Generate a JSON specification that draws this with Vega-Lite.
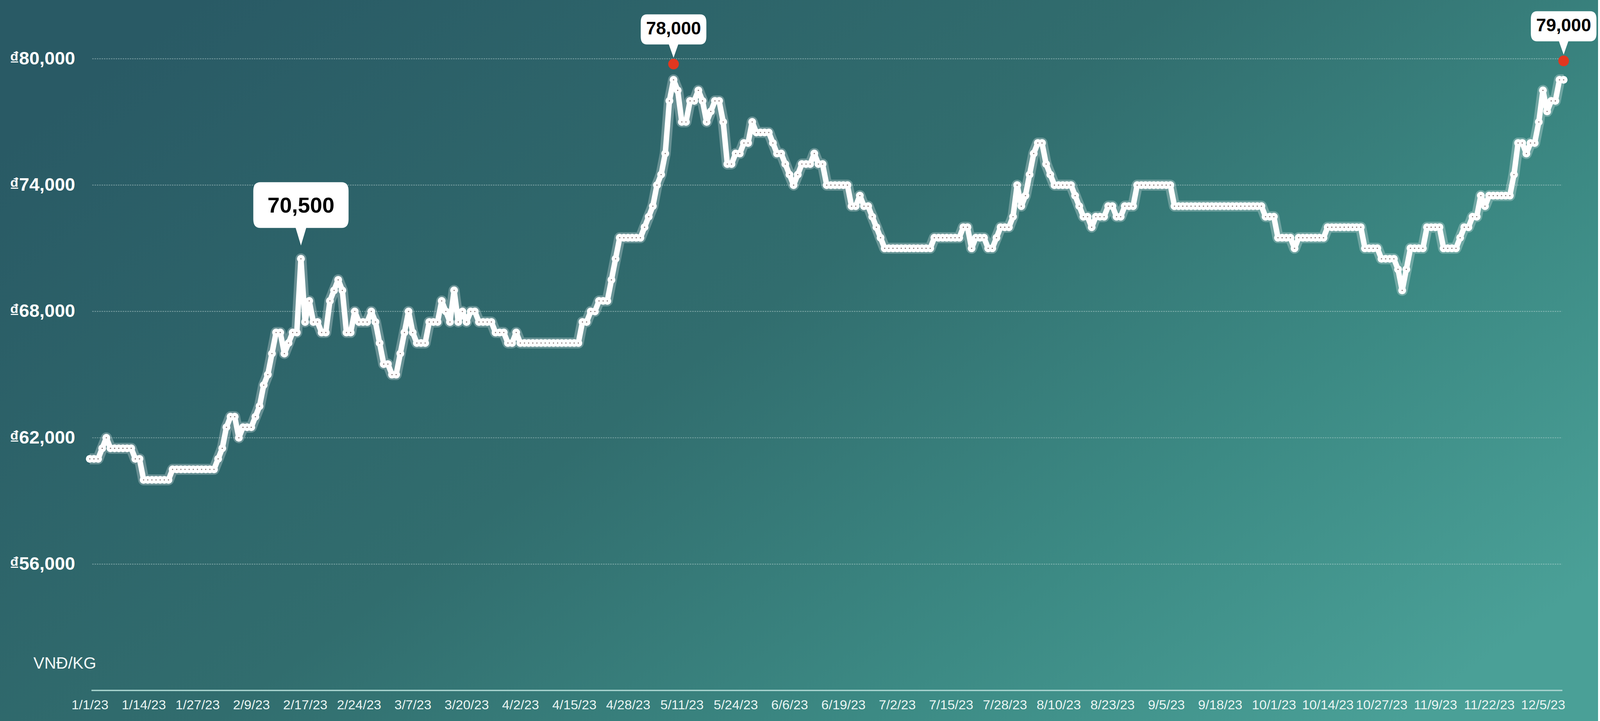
{
"$schema": "https://vega.github.io/schema/vega-lite/v6.json",
"width": 4091, "height": 1845, "padding": 0, "autosize": {"type": "none"},
"config": {"view": {"stroke": null}, "font": "Liberation Sans"},
"datasets": {
"s": [
{"i":0,"v":61000},{"i":1,"v":61000},{"i":2,"v":61000},{"i":3,"v":61500},{"i":4,"v":62000},{"i":5,"v":61500},{"i":6,"v":61500},{"i":7,"v":61500},{"i":8,"v":61500},{"i":9,"v":61500},
{"i":10,"v":61500},{"i":11,"v":61000},{"i":12,"v":61000},{"i":13,"v":60000},{"i":14,"v":60000},{"i":15,"v":60000},{"i":16,"v":60000},{"i":17,"v":60000},{"i":18,"v":60000},{"i":19,"v":60000},
{"i":20,"v":60500},{"i":21,"v":60500},{"i":22,"v":60500},{"i":23,"v":60500},{"i":24,"v":60500},{"i":25,"v":60500},{"i":26,"v":60500},{"i":27,"v":60500},{"i":28,"v":60500},{"i":29,"v":60500},
{"i":30,"v":60500},{"i":31,"v":61000},{"i":32,"v":61500},{"i":33,"v":62500},{"i":34,"v":63000},{"i":35,"v":63000},{"i":36,"v":62000},{"i":37,"v":62500},{"i":38,"v":62500},{"i":39,"v":62500},
{"i":40,"v":63000},{"i":41,"v":63500},{"i":42,"v":64500},{"i":43,"v":65000},{"i":44,"v":66000},{"i":45,"v":67000},{"i":46,"v":67000},{"i":47,"v":66000},{"i":48,"v":66500},{"i":49,"v":67000},
{"i":50,"v":67000},{"i":51,"v":70500},{"i":52,"v":67500},{"i":53,"v":68500},{"i":54,"v":67500},{"i":55,"v":67500},{"i":56,"v":67000},{"i":57,"v":67000},{"i":58,"v":68500},{"i":59,"v":69000},
{"i":60,"v":69500},{"i":61,"v":69000},{"i":62,"v":67000},{"i":63,"v":67000},{"i":64,"v":68000},{"i":65,"v":67500},{"i":66,"v":67500},{"i":67,"v":67500},{"i":68,"v":68000},{"i":69,"v":67500},
{"i":70,"v":66500},{"i":71,"v":65500},{"i":72,"v":65500},{"i":73,"v":65000},{"i":74,"v":65000},{"i":75,"v":66000},{"i":76,"v":67000},{"i":77,"v":68000},{"i":78,"v":67000},{"i":79,"v":66500},
{"i":80,"v":66500},{"i":81,"v":66500},{"i":82,"v":67500},{"i":83,"v":67500},{"i":84,"v":67500},{"i":85,"v":68500},{"i":86,"v":68000},{"i":87,"v":67500},{"i":88,"v":69000},{"i":89,"v":67500},
{"i":90,"v":68000},{"i":91,"v":67500},{"i":92,"v":68000},{"i":93,"v":68000},{"i":94,"v":67500},{"i":95,"v":67500},{"i":96,"v":67500},{"i":97,"v":67500},{"i":98,"v":67000},{"i":99,"v":67000},
{"i":100,"v":67000},{"i":101,"v":66500},{"i":102,"v":66500},{"i":103,"v":67000},{"i":104,"v":66500},{"i":105,"v":66500},{"i":106,"v":66500},{"i":107,"v":66500},{"i":108,"v":66500},{"i":109,"v":66500},
{"i":110,"v":66500},{"i":111,"v":66500},{"i":112,"v":66500},{"i":113,"v":66500},{"i":114,"v":66500},{"i":115,"v":66500},{"i":116,"v":66500},{"i":117,"v":66500},{"i":118,"v":66500},{"i":119,"v":67500},
{"i":120,"v":67500},{"i":121,"v":68000},{"i":122,"v":68000},{"i":123,"v":68500},{"i":124,"v":68500},{"i":125,"v":68500},{"i":126,"v":69500},{"i":127,"v":70500},{"i":128,"v":71500},{"i":129,"v":71500},
{"i":130,"v":71500},{"i":131,"v":71500},{"i":132,"v":71500},{"i":133,"v":71500},{"i":134,"v":72000},{"i":135,"v":72500},{"i":136,"v":73000},{"i":137,"v":74000},{"i":138,"v":74500},{"i":139,"v":75500},
{"i":140,"v":78000},{"i":141,"v":79000},{"i":142,"v":78500},{"i":143,"v":77000},{"i":144,"v":77000},{"i":145,"v":78000},{"i":146,"v":78000},{"i":147,"v":78500},{"i":148,"v":78000},{"i":149,"v":77000},
{"i":150,"v":77500},{"i":151,"v":78000},{"i":152,"v":78000},{"i":153,"v":77000},{"i":154,"v":75000},{"i":155,"v":75000},{"i":156,"v":75500},{"i":157,"v":75500},{"i":158,"v":76000},{"i":159,"v":76000},
{"i":160,"v":77000},{"i":161,"v":76500},{"i":162,"v":76500},{"i":163,"v":76500},{"i":164,"v":76500},{"i":165,"v":76000},{"i":166,"v":75500},{"i":167,"v":75500},{"i":168,"v":75000},{"i":169,"v":74500},
{"i":170,"v":74000},{"i":171,"v":74500},{"i":172,"v":75000},{"i":173,"v":75000},{"i":174,"v":75000},{"i":175,"v":75500},{"i":176,"v":75000},{"i":177,"v":75000},{"i":178,"v":74000},{"i":179,"v":74000},
{"i":180,"v":74000},{"i":181,"v":74000},{"i":182,"v":74000},{"i":183,"v":74000},{"i":184,"v":73000},{"i":185,"v":73000},{"i":186,"v":73500},{"i":187,"v":73000},{"i":188,"v":73000},{"i":189,"v":72500},
{"i":190,"v":72000},{"i":191,"v":71500},{"i":192,"v":71000},{"i":193,"v":71000},{"i":194,"v":71000},{"i":195,"v":71000},{"i":196,"v":71000},{"i":197,"v":71000},{"i":198,"v":71000},{"i":199,"v":71000},
{"i":200,"v":71000},{"i":201,"v":71000},{"i":202,"v":71000},{"i":203,"v":71000},{"i":204,"v":71500},{"i":205,"v":71500},{"i":206,"v":71500},{"i":207,"v":71500},{"i":208,"v":71500},{"i":209,"v":71500},
{"i":210,"v":71500},{"i":211,"v":72000},{"i":212,"v":72000},{"i":213,"v":71000},{"i":214,"v":71500},{"i":215,"v":71500},{"i":216,"v":71500},{"i":217,"v":71000},{"i":218,"v":71000},{"i":219,"v":71500},
{"i":220,"v":72000},{"i":221,"v":72000},{"i":222,"v":72000},{"i":223,"v":72500},{"i":224,"v":74000},{"i":225,"v":73000},{"i":226,"v":73500},{"i":227,"v":74500},{"i":228,"v":75500},{"i":229,"v":76000},
{"i":230,"v":76000},{"i":231,"v":75000},{"i":232,"v":74500},{"i":233,"v":74000},{"i":234,"v":74000},{"i":235,"v":74000},{"i":236,"v":74000},{"i":237,"v":74000},{"i":238,"v":73500},{"i":239,"v":73000},
{"i":240,"v":72500},{"i":241,"v":72500},{"i":242,"v":72000},{"i":243,"v":72500},{"i":244,"v":72500},{"i":245,"v":72500},{"i":246,"v":73000},{"i":247,"v":73000},{"i":248,"v":72500},{"i":249,"v":72500},
{"i":250,"v":73000},{"i":251,"v":73000},{"i":252,"v":73000},{"i":253,"v":74000},{"i":254,"v":74000},{"i":255,"v":74000},{"i":256,"v":74000},{"i":257,"v":74000},{"i":258,"v":74000},{"i":259,"v":74000},
{"i":260,"v":74000},{"i":261,"v":74000},{"i":262,"v":73000},{"i":263,"v":73000},{"i":264,"v":73000},{"i":265,"v":73000},{"i":266,"v":73000},{"i":267,"v":73000},{"i":268,"v":73000},{"i":269,"v":73000},
{"i":270,"v":73000},{"i":271,"v":73000},{"i":272,"v":73000},{"i":273,"v":73000},{"i":274,"v":73000},{"i":275,"v":73000},{"i":276,"v":73000},{"i":277,"v":73000},{"i":278,"v":73000},{"i":279,"v":73000},
{"i":280,"v":73000},{"i":281,"v":73000},{"i":282,"v":73000},{"i":283,"v":73000},{"i":284,"v":72500},{"i":285,"v":72500},{"i":286,"v":72500},{"i":287,"v":71500},{"i":288,"v":71500},{"i":289,"v":71500},
{"i":290,"v":71500},{"i":291,"v":71000},{"i":292,"v":71500},{"i":293,"v":71500},{"i":294,"v":71500},{"i":295,"v":71500},{"i":296,"v":71500},{"i":297,"v":71500},{"i":298,"v":71500},{"i":299,"v":72000},
{"i":300,"v":72000},{"i":301,"v":72000},{"i":302,"v":72000},{"i":303,"v":72000},{"i":304,"v":72000},{"i":305,"v":72000},{"i":306,"v":72000},{"i":307,"v":72000},{"i":308,"v":71000},{"i":309,"v":71000},
{"i":310,"v":71000},{"i":311,"v":71000},{"i":312,"v":70500},{"i":313,"v":70500},{"i":314,"v":70500},{"i":315,"v":70500},{"i":316,"v":70000},{"i":317,"v":69000},{"i":318,"v":70000},{"i":319,"v":71000},
{"i":320,"v":71000},{"i":321,"v":71000},{"i":322,"v":71000},{"i":323,"v":72000},{"i":324,"v":72000},{"i":325,"v":72000},{"i":326,"v":72000},{"i":327,"v":71000},{"i":328,"v":71000},{"i":329,"v":71000},
{"i":330,"v":71000},{"i":331,"v":71500},{"i":332,"v":72000},{"i":333,"v":72000},{"i":334,"v":72500},{"i":335,"v":72500},{"i":336,"v":73500},{"i":337,"v":73000},{"i":338,"v":73500},{"i":339,"v":73500},
{"i":340,"v":73500},{"i":341,"v":73500},{"i":342,"v":73500},{"i":343,"v":73500},{"i":344,"v":74500},{"i":345,"v":76000},{"i":346,"v":76000},{"i":347,"v":75500},{"i":348,"v":76000},{"i":349,"v":76000},
{"i":350,"v":77000},{"i":351,"v":78500},{"i":352,"v":77500},{"i":353,"v":78000},{"i":354,"v":78000},{"i":355,"v":79000},{"i":356,"v":79000}
],
"big": [{"i":51,"v":70500,"t":"70,500"}],
"small": [{"i":141,"v":79750,"t":"78,000"},{"i":356,"v":79900,"t":"79,000"}],
"grid": [{"g":56000},{"g":62000},{"g":68000},{"g":74000},{"g":80000}],
"one": [{}]
},
"layer": [
{"data": {"name": "one"},
 "mark": {"type": "rect", "color": {"gradient": "linear", "x1": 0, "y1": 0.2, "x2": 1, "y2": 0.8,
   "stops": [{"offset": 0, "color": "#295a65"}, {"offset": 0.45, "color": "#316d6e"}, {"offset": 0.75, "color": "#3c8a84"}, {"offset": 1, "color": "#4aa097"}]}},
 "encoding": {}},
{"data": {"name": "grid"},
 "mark": {"type": "rule", "color": "#d6e8e6", "strokeWidth": 2.2, "strokeDash": [3.5, 2.5], "opacity": 0.45},
 "encoding": {"y": {"field": "g", "type": "quantitative"},
   "x": {"datum": 0.6, "type": "quantitative"}, "x2": {"datum": 355.6}}},
{"data": {"name": "one"},
 "mark": {"type": "rule", "color": "#a8d4cf", "strokeWidth": 3.6},
 "encoding": {"y": {"datum": 50000, "type": "quantitative"},
   "x": {"datum": 0.4, "type": "quantitative"}, "x2": {"datum": 355.7}}},
{"data": {"name": "s"},
 "mark": {"type": "line", "color": "#ffffff", "strokeWidth": 28, "opacity": 0.28, "strokeJoin": "round"},
 "encoding": {"x": {"field": "i", "type": "quantitative"}, "y": {"field": "v", "type": "quantitative"}}},
{"data": {"name": "s"},
 "mark": {"type": "line", "color": "#ffffff", "strokeWidth": 14, "strokeJoin": "round"},
 "encoding": {
   "x": {"field": "i", "type": "quantitative", "scale": {"domain": [-21.69, 364.31], "nice": false, "zero": false},
     "axis": {"values": [0,13,26,39,52,65,78,91,104,117,130,143,156,169,182,195,208,221,234,247,260,273,286,299,312,325,338,351],
       "labelExpr": "['1/1/23','1/14/23','1/27/23','2/9/23','2/17/23','2/24/23','3/7/23','3/20/23','4/2/23','4/15/23','4/28/23','5/11/23','5/24/23','6/6/23','6/19/23','7/2/23','7/15/23','7/28/23','8/10/23','8/23/23','9/5/23','9/18/23','10/1/23','10/14/23','10/27/23','11/9/23','11/22/23','12/5/23'][round(datum.value/13)]",
       "zindex": 2, "offset": -78, "domain": false, "ticks": false, "grid": false, "labelPadding": 20, "labelFontSize": 34, "labelColor": "#e8f4f2",
       "labelFont": "Liberation Sans", "labelOverlap": false, "labelFlush": false, "labelBound": false,
       "title": "VNĐ/KG", "titleX": 85, "titleY": -70, "titleAlign": "left", "titleBaseline": "middle", "titleAngle": 0,
       "titleFontSize": 42, "titleFontWeight": "normal", "titleColor": "#f2f8f7", "titleFont": "Liberation Sans"}},
   "y": {"field": "v", "type": "quantitative", "scale": {"domain": [48549, 82791], "nice": false, "zero": false},
     "axis": {"values": [56000, 62000, 68000, 74000, 80000], "labelExpr": "'₫' + format(datum.value, ',')",
       "zindex": 2, "offset": -192, "domain": false, "ticks": false, "grid": false, "labelPadding": 0, "labelFontSize": 47,
       "labelFontWeight": "bold", "labelColor": "#ffffff", "labelFont": "Liberation Sans", "title": null}}}},
{"data": {"name": "s"},
 "mark": {"type": "point", "filled": true, "color": "#ffffff", "size": 400, "opacity": 1},
 "encoding": {"x": {"field": "i", "type": "quantitative"}, "y": {"field": "v", "type": "quantitative"}}},
{"data": {"name": "s"},
 "mark": {"type": "point", "filled": true, "color": "#5e4848", "size": 10, "opacity": 0.8},
 "encoding": {"x": {"field": "i", "type": "quantitative"}, "y": {"field": "v", "type": "quantitative"}}},
{"data": {"name": "small"},
 "mark": {"type": "point", "filled": true, "color": "#e2371f", "size": 750, "opacity": 1},
 "encoding": {"x": {"field": "i", "type": "quantitative"}, "y": {"field": "v", "type": "quantitative"}}},
{"data": {"name": "big"},
 "mark": {"type": "point", "filled": true, "color": "#ffffff", "opacity": 1, "size": 90000,
   "shape": "M -0.693,-1.307 L 0.693,-1.307 Q 0.813,-1.307 0.813,-1.16 L 0.813,-0.674 Q 0.813,-0.527 0.693,-0.527 L 0.09,-0.527 L 0,-0.227 L -0.09,-0.527 L -0.693,-0.527 Q -0.813,-0.527 -0.813,-0.674 L -0.813,-1.16 Q -0.813,-1.307 -0.693,-1.307 Z"},
 "encoding": {"x": {"field": "i", "type": "quantitative"}, "y": {"field": "v", "type": "quantitative"}}},
{"data": {"name": "big"},
 "mark": {"type": "text", "color": "#000000", "font": "Liberation Sans", "fontWeight": "bold", "fontSize": 56, "dy": -135, "baseline": "middle", "align": "center"},
 "encoding": {"x": {"field": "i", "type": "quantitative"}, "y": {"field": "v", "type": "quantitative"}, "text": {"field": "t"}}},
{"data": {"name": "small"},
 "mark": {"type": "point", "filled": true, "color": "#ffffff", "opacity": 1, "size": 40000,
   "shape": "M -0.68,-1.27 L 0.68,-1.27 Q 0.84,-1.27 0.84,-1.07 L 0.84,-0.7 Q 0.84,-0.5 0.68,-0.5 L 0.12,-0.5 L 0,-0.16 L -0.12,-0.5 L -0.68,-0.5 Q -0.84,-0.5 -0.84,-0.7 L -0.84,-1.07 Q -0.84,-1.27 -0.68,-1.27 Z"},
 "encoding": {"x": {"field": "i", "type": "quantitative"}, "y": {"field": "v", "type": "quantitative"}}},
{"data": {"name": "small"},
 "mark": {"type": "text", "color": "#000000", "font": "Liberation Sans", "fontWeight": "bold", "fontSize": 46, "dy": -90, "baseline": "middle", "align": "center"},
 "encoding": {"x": {"field": "i", "type": "quantitative"}, "y": {"field": "v", "type": "quantitative"}, "text": {"field": "t"}}}
]
}
